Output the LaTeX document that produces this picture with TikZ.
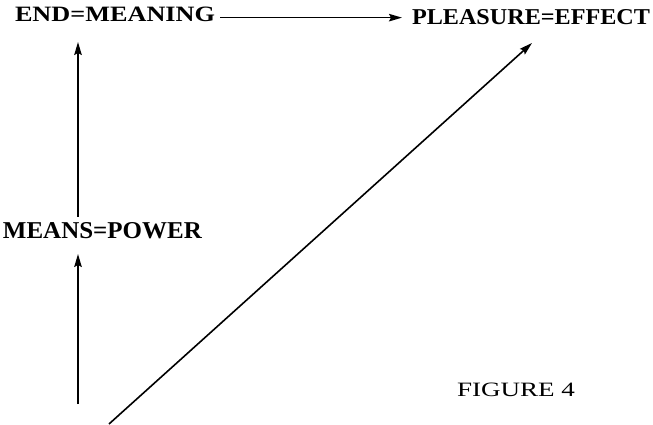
\documentclass[tikz,border=0pt]{standalone}
\usepackage{fontspec}
\setmainfont{Liberation Serif}
\usetikzlibrary{arrows.meta}
\tikzset{
  lbl/.style={inner sep=0pt, outer sep=0pt, anchor=south west},
  arr/.style={line width=1.6pt, -{Stealth[length=13pt,width=7.5pt,inset=2pt]}}
}
\begin{document}
\begin{tikzpicture}[x=1pt,y=-1pt]
\useasboundingbox (0,0) rectangle (653,425);
\node[lbl] (end) at (15,22) {\resizebox{200pt}{14.5pt}{\textbf{END=MEANING}}};
\node[lbl] (pleasure) at (412,25) {\resizebox{238pt}{15pt}{\textbf{PLEASURE=EFFECT}}};
\node[lbl] (means) at (3,239) {\resizebox{199pt}{16pt}{\textbf{MEANS=POWER}}};
\node[lbl] (fig) at (457,397) {\resizebox{118pt}{13.5pt}{FIGURE 4}};
\coordinate (vx) at (78,0);
\coordinate (b0) at (78,404);
\coordinate (d0) at (109,424);
\coordinate (d1) at (532,43);
\draw[arr] ([xshift=5pt,yshift=-3pt]end.east) -- ([xshift=-10pt,yshift=-3pt]end.east -| pleasure.west);
\draw[arr, shorten <=6pt, shorten >=20pt] (vx |- means.north) -- (vx |- end.south);
\draw[arr, shorten >=15pt] (b0) -- (vx |- means.south);
\draw[arr] (d0) -- (d1);
\end{tikzpicture}
\end{document}
